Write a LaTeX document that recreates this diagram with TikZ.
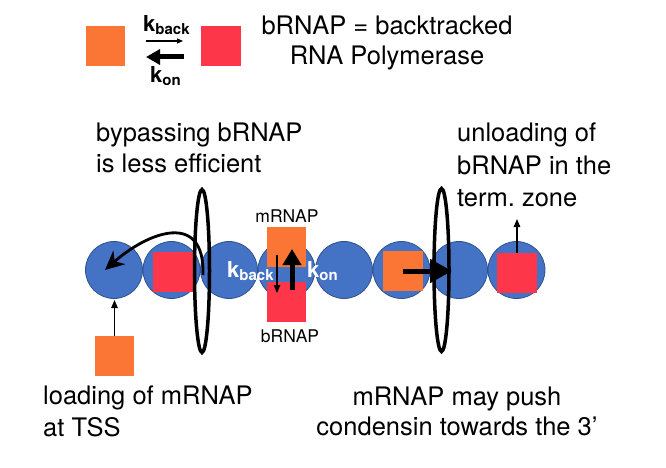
\documentclass[tikz,border=0pt]{standalone}
\usepackage{fontspec}
\setmainfont{TeX Gyre Heros}
\usetikzlibrary{arrows.meta,shapes.geometric}
\definecolor{cblue}{HTML}{4472C4}
\definecolor{cborder}{HTML}{2F528F}
\definecolor{corange}{HTML}{FB7534}
\definecolor{cred}{HTML}{FE364A}
\newcommand{\ksub}[1]{\textbf{k\raisebox{-3pt}{\fontsize{15}{15}\selectfont #1}}}
\frenchspacing
\begin{document}
\begin{tikzpicture}[x=1pt,y=-1pt,
  bead/.style={circle, fill=cblue, draw=cborder, line width=0.8pt, minimum size=57pt, inner sep=0pt},
  osq/.style={fill=corange, minimum size=39.5pt, inner sep=0pt},
  rsq/.style={fill=cred, minimum size=39.5pt, inner sep=0pt},
  ring/.style={ellipse, draw=black, line width=3.5pt, minimum width=15pt, minimum height=163pt, inner sep=0pt},
  txt/.style={font=\fontsize{25.5}{31}\selectfont, inner sep=0pt},
  small/.style={font=\fontsize{17.5}{20}\selectfont, inner sep=0pt},
  klab/.style={font=\fontsize{22}{24}\selectfont, inner sep=0pt},
  thin/.style={line width=1.1pt, -{Triangle[length=8pt,width=6.5pt]}},
  thick/.style={line width=5pt, -{Triangle[length=16pt,width=18pt]}},
  bigthick/.style={line width=5pt, -{Triangle[length=22pt,width=23pt]}},
  curved/.style={line width=2.8pt, -{Stealth[length=19pt,width=18pt,inset=6pt]}}
]
\useasboundingbox (0,0) rectangle (666,468);

% legend
\node[osq] (lo) at (105.5,46) {};
\node[rsq] (lr) at (221,46) {};
\coordinate (la1) at (146,41);
\coordinate (la2) at (183,41);
\coordinate (lb1) at (184,57);
\coordinate (lb2) at (146,57);
\draw[thin, -{Triangle[length=6pt,width=5pt]}] (la1) -- (la2);
\draw[line width=5pt, -{Triangle[length=14pt,width=15pt]}] (lb1) -- (lb2);
\node[klab, anchor=base west] (lkb) at (143,32) {\ksub{back}};
\node[klab, anchor=base west] (lko) at (150,83) {\ksub{on}};
\node[txt, anchor=base] (def1) at (387,35) {bRNAP = backtracked};
\node[txt, anchor=base] (def2) at (387,65) {RNA Polymerase};

% beads
\foreach \i in {1,...,8}{
  \node[bead] (b\i) at ({114+57.5*(\i-1)},270) {};
}

% squares on beads
\node[rsq] (r1) at (173,272) {};
\node[osq] (o6) at (403,271) {};
\node[rsq] (r8) at (517,273) {};
\node[osq] (om) at (286.5,247) {};
\node[rsq] (rm) at (286.5,302) {};
\node[osq] (ol) at (114.5,356) {};

% rings
\node[ring] (e1) at (202,271) {};
\node[ring] (e2) at (441.5,270) {};

% arrows
\coordinate (cs) at (203,275);
\coordinate (ce) at (105,270);
\draw[curved] (cs) .. controls (205,210) and (148,232) .. (ce);
\coordinate (tss) at (114.5,300);
\draw[thin] (ol.north) -- (tss);
\coordinate (up8) at (517,219);
\draw[thin] (r8.north) -- (up8);
\coordinate (push) at (452,271);
\draw[bigthick] (o6.center) -- (push);
\coordinate (md1) at (277,255);
\coordinate (md2) at (277,293);
\draw[thin] (md1) -- (md2);
\coordinate (mu1) at (292,290);
\coordinate (mu2) at (292,249);
\draw[thick] (mu1) -- (mu2);

% labels on beads
\node[klab, text=white, anchor=base west] (kb) at (227,277) {\ksub{back}};
\node[klab, text=white, anchor=base west] (ko) at (307,277) {\ksub{on}};
\node[small, anchor=base] (mlab) at (287,222) {mRNAP};
\node[small, anchor=base] (blab) at (290,342) {bRNAP};

% texts
\node[txt, anchor=base west] (t1a) at (96,142) {bypassing bRNAP};
\node[txt, anchor=base west] (t1b) at (96,172) {is less efficient};
\node[txt, anchor=base west] (t2a) at (457,142) {unloading of};
\node[txt, anchor=base west] (t2b) at (457,174) {bRNAP in the};
\node[txt, anchor=base west] (t2c) at (457,206) {term. zone};
\node[txt, anchor=base west] (t3a) at (43,404) {loading of mRNAP};
\node[txt, anchor=base west] (t3b) at (43,436) {at TSS};
\node[txt, anchor=base] (t4a) at (457,405) {mRNAP may push};
\node[txt, anchor=base] (t4b) at (457,435) {condensin towards the 3’};
\end{tikzpicture}
\end{document}
